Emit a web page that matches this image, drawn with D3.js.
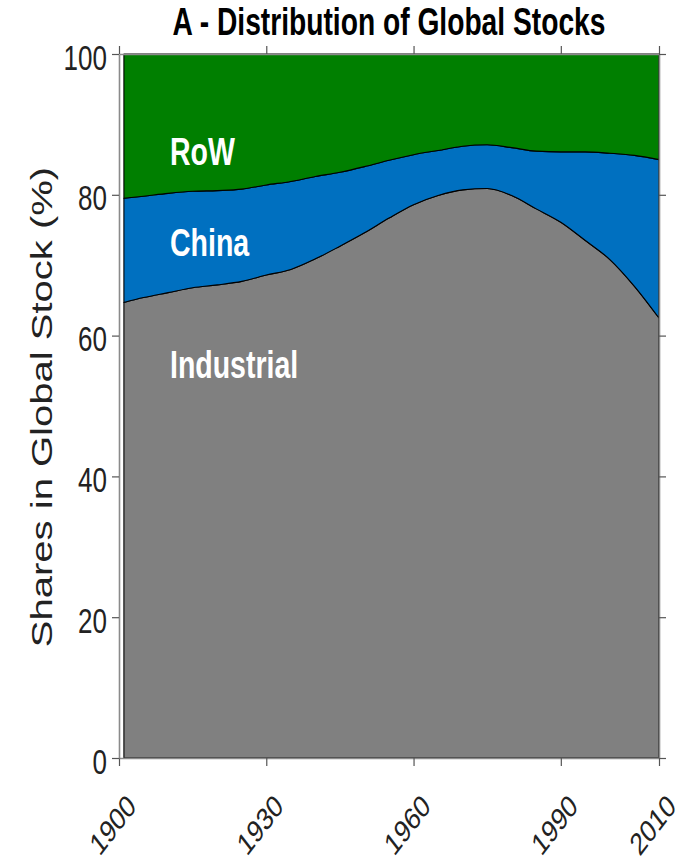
<!DOCTYPE html>
<html>
<head>
<meta charset="utf-8">
<script src="https://cdn.jsdelivr.net/npm/d3@7"></script>
<style>
  body { margin: 0; background: #fff; }
  text { font-family: "Liberation Sans", Arial, sans-serif; }
</style>
</head>
<body>
<div id="chart"></div>
<script>
// data (shares in %)
var years      = [1901, 1905, 1910, 1915, 1920, 1925, 1930, 1935, 1940, 1945, 1950, 1955,
                  1960, 1965, 1970, 1975, 1980, 1985, 1990, 1995, 2000, 2005, 2010];
var industrial = [64.7, 65.4, 66.1, 66.8, 67.2, 67.7, 68.6, 69.4, 70.9, 72.7, 74.6, 76.7,
                  78.6, 79.9, 80.7, 80.9, 79.9, 78.0, 76.1, 73.5, 70.8, 67.0, 62.5];
var china      = [14.8, 14.4, 14.1, 13.7, 13.4, 13.1, 12.8, 12.5, 11.7, 10.5, 9.4, 8.2,
                  7.1, 6.4, 6.2, 6.2, 6.8, 8.2, 10.0, 12.6, 15.1, 18.6, 22.5];
var row        = [20.5, 20.2, 19.8, 19.5, 19.4, 19.2, 18.6, 18.1, 17.4, 16.8, 16.0, 15.1,
                  14.3, 13.7, 13.1, 12.9, 13.3, 13.8, 13.9, 13.9, 14.1, 14.4, 15.0];
var keys   = ["Industrial", "China", "RoW"];
var xTicks = [1900, 1930, 1960, 1990, 2010];
var yTicks = [0, 20, 40, 60, 80, 100];

var W = 683, H = 861;
var plotL = 119, plotR = 659, plotT = 54, plotB = 758;
var SY = 1.38; // the picture's text is tall and narrow

var colors = { Industrial: "#808080", China: "#0070c0", RoW: "#007f00" };

var table = years.map(function (yr, i) {
    return { year: yr, Industrial: industrial[i], China: china[i], RoW: row[i] };
});

var x = d3.scaleLinear().domain([1900, 2010]).range([plotL, plotR]);
var y = d3.scaleLinear().domain([0, 100]).range([plotB, plotT]);

var svg = d3.select("#chart").append("svg")
    .attr("width", W)
    .attr("height", H);

// stacked areas
var series = d3.stack().keys(keys)(table);
var area = d3.area()
    .curve(d3.curveMonotoneX)
    .x(function (d) { return x(d.data.year); })
    .y0(function (d) { return y(d[0]); })
    .y1(function (d) { return y(d[1]); });

svg.selectAll(".layer")
    .data(series)
    .enter().append("path")
    .attr("class", "layer")
    .attr("d", area)
    .attr("fill", function (d) { return colors[d.key]; })
    .attr("stroke", "#000")
    .attr("stroke-width", 1.1)
    .attr("stroke-linejoin", "round");

// axes
function styleAxis(g) {
    g.select(".domain").attr("stroke", "#8a8a8a").attr("stroke-width", 1.6);
    g.selectAll(".tick line").attr("stroke", "#555").attr("stroke-width", 1.2);
}

svg.append("g")
    .attr("transform", "translate(0," + plotB + ")")
    .call(d3.axisBottom(x).tickValues(xTicks).tickSize(8).tickSizeOuter(0).tickFormat(d3.format("d")))
    .call(styleAxis)
    .call(function (g) {
        g.selectAll(".tick text")
            .attr("y", null).attr("dy", null)
            .attr("fill", "#222")
            .attr("font-size", 24)
            .attr("text-anchor", "end")
            .attr("transform", "translate(18,50) scale(1,1.3) rotate(-45)");
    });

svg.append("g")
    .attr("transform", "translate(0," + plotT + ")")
    .call(d3.axisTop(x).tickValues(xTicks).tickSize(8).tickSizeOuter(0).tickFormat(""))
    .call(styleAxis);

svg.append("g")
    .attr("transform", "translate(" + plotL + ",0)")
    .call(d3.axisLeft(y).tickValues(yTicks).tickSize(7).tickSizeOuter(0))
    .call(styleAxis)
    .call(function (g) {
        g.selectAll(".tick text")
            .attr("x", null).attr("dy", null)
            .attr("fill", "#222")
            .attr("font-size", 26)
            .attr("text-anchor", "end")
            .attr("transform", "translate(-12,15) scale(1," + SY + ")");
    });

svg.append("g")
    .attr("transform", "translate(" + plotR + ",0)")
    .call(d3.axisRight(y).tickValues(yTicks).tickSize(7).tickSizeOuter(0).tickFormat(""))
    .call(styleAxis);

// y axis title
svg.append("text")
    .attr("transform", "translate(52,407) scale(1," + SY + ") rotate(-90)")
    .attr("text-anchor", "middle")
    .attr("font-size", 29)
    .attr("fill", "#222")
    .text("Shares in Global Stock (%)");

// chart title
svg.append("text")
    .attr("transform", "translate(389,35) scale(1,1.36)")
    .attr("text-anchor", "middle")
    .attr("font-size", 28.2)
    .attr("font-weight", "bold")
    .attr("fill", "#000")
    .text("A - Distribution of Global Stocks");

// layer labels
var labelPos = [["RoW", 165], ["China", 256], ["Industrial", 378]];
svg.selectAll(".lbl")
    .data(labelPos)
    .enter().append("text")
    .attr("class", "lbl")
    .attr("transform", function (d) { return "translate(170," + d[1] + ") scale(1," + SY + ")"; })
    .attr("font-size", 28.5)
    .attr("font-weight", "bold")
    .attr("fill", "#fff")
    .text(function (d) { return d[0]; });
</script>
</body>
</html>
